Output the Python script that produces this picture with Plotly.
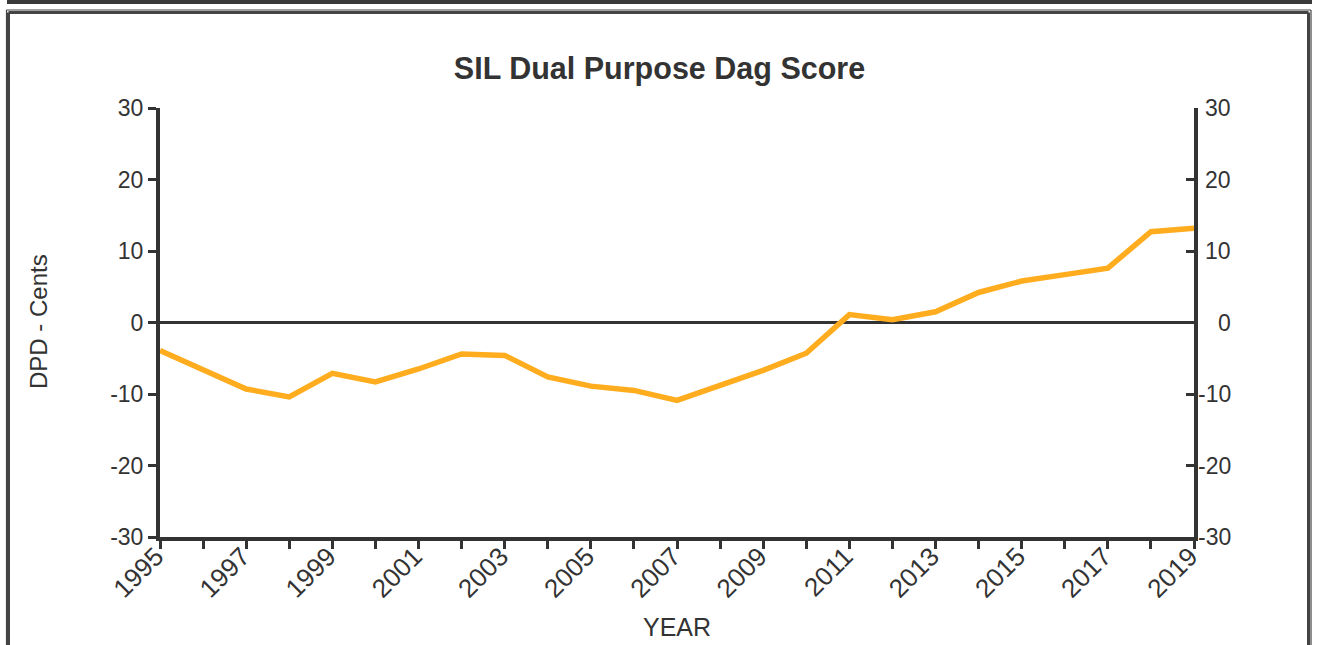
import plotly.graph_objects as go

years = list(range(1995, 2020))
dpd = [-3.9, -6.5, -9.3, -10.4, -7.1, -8.3, -6.5, -4.4, -4.6, -7.6, -8.9, -9.5, -10.9,
       -8.8, -6.7, -4.3, 1.1, 0.4, 1.5, 4.2, 5.8, 6.7, 7.6, 12.7, 13.2]
y_ticks = [-30, -20, -10, 0, 10, 20, 30]
y_ticktext = [str(v) for v in y_ticks]
x_ticktext = [str(y) if (y - 1995) % 2 == 0 else "" for y in years]

title_text = "SIL Dual Purpose Dag Score"
x_title = "YEAR"
y_title = "DPD - Cents"

W, H = 1319, 645
L, R, T, B = 160, 125, 108, 108
PW, PH = W - L - R, H - T - B


def px(x):
    return (x - L) / PW


def py(y):
    return (H - B - y) / PH


DARK = "#333333"
FONT = "Liberation Sans, Arial, sans-serif"

fig = go.Figure()
fig.add_trace(go.Scatter(x=years, y=dpd, mode="lines",
                         line=dict(color="#FFAD1F", width=5.5),
                         showlegend=False, cliponaxis=True))
fig.add_trace(go.Scatter(x=years, y=dpd, mode="lines", yaxis="y2",
                         line=dict(color="rgba(0,0,0,0)", width=0),
                         showlegend=False, hoverinfo="skip"))

shapes = []
# top bar
shapes.append(dict(type="rect", xref="paper", yref="paper",
                   x0=px(7), x1=px(1312), y0=py(0), y1=py(4),
                   fillcolor="#3a3a3a", line=dict(width=0), layer="above"))


def seg(x0, y0, x1, y1, w, c="#444444"):
    return dict(type="line", xref="paper", yref="paper",
                x0=px(x0), y0=py(y0), x1=px(x1), y1=py(y1),
                line=dict(color=c, width=w), layer="above")


# outer thin border
shapes += [seg(6.5, 10, 1311, 10, 1.2), seg(6.5, 10, 6.5, 660, 1.2), seg(1311, 10, 1311, 660, 1.2)]
# inner thick border
shapes += [seg(8.5, 12.5, 1308.5, 12.5, 3), seg(8.5, 12.5, 8.5, 660, 3), seg(1308.5, 12.5, 1308.5, 660, 3)]

annotations = [
    dict(text=y_title, xref="paper", yref="paper", x=px(38), y=py(322),
         showarrow=False, textangle=-90, font=dict(family=FONT, size=24, color=DARK),
         xanchor="center", yanchor="middle"),
    dict(text=x_title, xref="paper", yref="paper", x=px(677), y=py(627),
         showarrow=False, font=dict(family=FONT, size=25, color=DARK),
         xanchor="center", yanchor="middle"),
]
for v, t in zip(y_ticks, y_ticktext):
    annotations.append(dict(text=t, xref="paper", yref="y", x=px(1233), y=v,
                            showarrow=False, xanchor="right", yanchor="middle",
                            font=dict(family=FONT, size=23, color=DARK)))

fig.update_layout(
    width=W, height=H,
    margin=dict(l=L, r=R, t=T, b=B, autoexpand=False),
    paper_bgcolor="white", plot_bgcolor="white",
    title=dict(text=f"<b>{title_text}</b>", x=0.5, xanchor="center",
               y=1 - 68 / H, yanchor="middle",
               font=dict(family=FONT, size=30.5, color=DARK)),
    font=dict(family=FONT, color=DARK),
    xaxis=dict(range=[1995, 2019], tickvals=years, ticktext=x_ticktext, tickangle=-45,
               showgrid=False, zeroline=False, showline=True, linecolor=DARK, linewidth=4,
               ticks="outside", ticklen=8, tickwidth=3, tickcolor=DARK,
               ticklabelstandoff=-18, ticklabelshift=-4,
               tickfont=dict(family=FONT, size=26, color=DARK)),
    yaxis=dict(range=[-30, 30], tickvals=y_ticks, ticktext=y_ticktext, showgrid=False,
               zeroline=True, zerolinecolor=DARK, zerolinewidth=2.5,
               showline=True, linecolor=DARK, linewidth=4,
               ticks="outside", ticklen=8, tickwidth=3, tickcolor=DARK,
               tickfont=dict(family=FONT, size=23, color=DARK)),
    yaxis2=dict(range=[-30, 30], tickvals=y_ticks, overlaying="y", side="right",
                showgrid=False, zeroline=False, showline=True, linecolor=DARK, linewidth=4,
                ticks="inside", ticklen=8, tickwidth=3, tickcolor=DARK,
                showticklabels=False),
    shapes=shapes, annotations=annotations,
)

fig.write_html("out.html", config={"displayModeBar": False},
               post_script="document.body.style.margin='0';")
